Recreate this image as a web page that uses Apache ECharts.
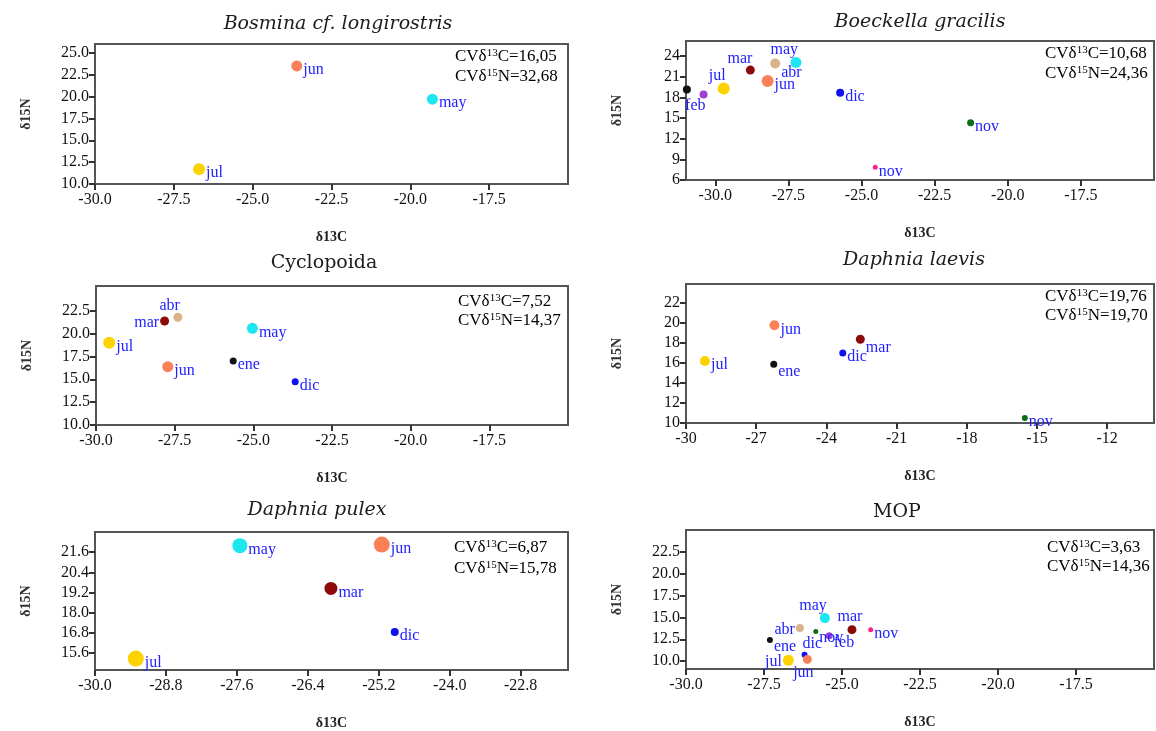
<!DOCTYPE html>
<html>
<head>
<meta charset="utf-8">
<script src="https://cdn.jsdelivr.net/npm/echarts@6/dist/echarts.min.js"></script>
<style>
html,body{margin:0;padding:0;background:#fff;}
#chart{width:1156px;height:731px;}
</style>
</head>
<body>
<div id="chart"></div>
<script>
// ---------------- DATA ----------------
const titles = ['Bosmina cf. longirostris', 'Boeckella gracilis', 'Cyclopoida', 'Daphnia laevis', 'Daphnia pulex', 'MOP'];
const titleItalic = [true, true, false, true, true, false];
const cv13 = ['16,05', '10,68', '7,52', '19,76', '6,87', '3,63'];
const cv15 = ['32,68', '24,36', '14,37', '19,70', '15,78', '14,36'];

// Bosmina cf. longirostris
const bosMonths = ['jun', 'may', 'jul'];
const bosC = [-23.6, -19.3, -26.7];
const bosN = [23.5, 19.7, 11.7];

// Boeckella gracilis
const boeMonths = ['ene', 'feb', 'jul', 'mar', 'may', 'abr', 'jun', 'dic', 'nov', 'nov'];
const boeC = [-30.97, -30.40, -29.71, -28.80, -27.24, -27.95, -28.21, -25.73, -21.27, -24.53];
const boeN = [19.16, 18.44, 19.31, 21.97, 23.08, 22.94, 20.37, 18.68, 14.32, 7.84];

// Cyclopoida
const cycMonths = ['jul', 'mar', 'abr', 'may', 'jun', 'ene', 'dic'];
const cycC = [-29.58, -27.82, -27.40, -25.03, -27.72, -25.64, -23.67];
const cycN = [19.0, 21.37, 21.77, 20.57, 16.38, 17.0, 14.74];

// Daphnia laevis
const dlaMonths = ['jul', 'jun', 'ene', 'dic', 'mar', 'nov'];
const dlaC = [-29.19, -26.22, -26.25, -23.3, -22.55, -15.52];
const dlaN = [16.2, 19.77, 15.87, 17.0, 18.37, 10.5];

// Daphnia pulex
const dpuMonths = ['may', 'jun', 'mar', 'dic', 'jul'];
const dpuC = [-27.55, -25.15, -26.01, -24.93, -29.31];
const dpuN = [21.99, 22.05, 19.45, 16.86, 15.28];

// MOP
const mopMonths = ['may', 'abr', 'nov', 'feb', 'mar', 'nov', 'ene', 'dic', 'jul', 'jun'];
const mopC = [-25.55, -26.35, -25.84, -25.41, -24.68, -24.08, -27.31, -26.2, -26.72, -26.11];
const mopN = [14.92, 13.78, 13.4, 12.9, 13.6, 13.6, 12.42, 10.72, 10.1, 10.2];

// tick labels
const xTicks = [
  ['-30.0', '-27.5', '-25.0', '-22.5', '-20.0', '-17.5'],
  ['-30.0', '-27.5', '-25.0', '-22.5', '-20.0', '-17.5'],
  ['-30.0', '-27.5', '-25.0', '-22.5', '-20.0', '-17.5'],
  ['-30', '-27', '-24', '-21', '-18', '-15', '-12'],
  ['-30.0', '-28.8', '-27.6', '-26.4', '-25.2', '-24.0', '-22.8'],
  ['-30.0', '-27.5', '-25.0', '-22.5', '-20.0', '-17.5']
];
const yTicks = [
  ['10.0', '12.5', '15.0', '17.5', '20.0', '22.5', '25.0'],
  ['6', '9', '12', '15', '18', '21', '24'],
  ['10.0', '12.5', '15.0', '17.5', '20.0', '22.5'],
  ['10', '12', '14', '16', '18', '20', '22'],
  ['15.6', '16.8', '18.0', '19.2', '20.4', '21.6'],
  ['10.0', '12.5', '15.0', '17.5', '20.0', '22.5']
];
const xRange = [[-30, -15], [-31, -15], [-30, -15], [-30, -10], [-30, -22], [-30, -15]];
const yRange = [[10, 26], [6, 26.2], [10, 25.2], [10, 23.9], [14.6, 22.8], [9.1, 25]];

// ---------------- STYLE ----------------
const palette = {
  ene: '#111111', feb: '#9b3fd6', mar: '#8b0a0a', abr: '#d9b38a', may: '#1ee6f0',
  jun: '#fa8058', jul: '#fcd200', dic: '#1010f0', novG: '#0c6e1c', novP: '#ff2090'
};
const panelColors = [
  ['jun', 'may', 'jul'],
  ['ene', 'feb', 'jul', 'mar', 'may', 'abr', 'jun', 'dic', 'novG', 'novP'],
  ['jul', 'mar', 'abr', 'may', 'jun', 'ene', 'dic'],
  ['jul', 'jun', 'ene', 'dic', 'mar', 'novG'],
  ['may', 'jun', 'mar', 'dic', 'jul'],
  ['may', 'abr', 'novG', 'feb', 'mar', 'novP', 'ene', 'dic', 'jul', 'jun']
];
const panelSizes = [
  [11, 11, 12],
  [8, 8, 12, 9, 11, 10, 12, 8, 7, 5],
  [12, 9, 9, 11, 11, 7, 7],
  [10, 10, 7, 7, 9, 6],
  [15, 16, 13, 8, 16],
  [10, 8, 5, 7, 9, 5, 6, 6, 11, 9]
];
const panelLabelPos = [
  ['r', 'r', 'r'],
  ['none', 'bl', 'tl', 'tl', 'tl', 'br', 'r', 'r', 'r', 'r'],
  ['r', 'l', 'tl', 'r', 'r', 'r', 'r'],
  ['r', 'r', 'br', 'r', 'br', 'r'],
  ['r', 'r', 'r', 'r', 'r'],
  ['tl', 'l', 'br', 'br', 't', 'r', 'br', 'tr', 'l', 'b']
];
const grids = [
  {left: 95, top: 44, width: 473, height: 140},
  {left: 686, top: 41, width: 468, height: 139},
  {left: 96, top: 286, width: 472, height: 139},
  {left: 686, top: 284, width: 468, height: 139},
  {left: 95, top: 532, width: 473, height: 139},
  {left: 686, top: 530, width: 468, height: 139}
];
const titlePos = [[338, 24], [920, 22], [324, 263], [914, 260], [317, 510], [897, 512]];
const cvPos = [[455, 57, 77], [1045, 54, 74], [458, 302, 321], [1045, 297, 316], [454, 548, 569], [1047, 548, 567]];

const months = [bosMonths, boeMonths, cycMonths, dlaMonths, dpuMonths, mopMonths];
const cVals = [bosC, boeC, cycC, dlaC, dpuC, mopC];
const nVals = [bosN, boeN, cycN, dlaN, dpuN, mopN];

const serif = '"Liberation Serif", "Times New Roman", serif';
const axisColor = '#555';

function labelCfg(pos, size) {
  const r = size / 2;
  const base = {show: true, position: 'inside', color: '#2222ff', fontFamily: serif, fontSize: 16};
  switch (pos) {
    case 'none': return {show: false};
    case 'r': return Object.assign(base, {align: 'left', verticalAlign: 'middle', offset: [r + 1, 4]});
    case 'br': return Object.assign(base, {align: 'left', verticalAlign: 'middle', offset: [r + 1, r + 4]});
    case 'l': return Object.assign(base, {align: 'right', verticalAlign: 'middle', offset: [-r - 1, 2]});
    case 'tl': return Object.assign(base, {align: 'right', verticalAlign: 'middle', offset: [2, -r - 7]});
    case 'bl': return Object.assign(base, {align: 'right', verticalAlign: 'middle', offset: [2, r + 7]});
    case 't': return Object.assign(base, {align: 'center', verticalAlign: 'middle', offset: [-2, -r - 8]});
    case 'tr': return Object.assign(base, {align: 'left', verticalAlign: 'middle', offset: [-2, -r - 8]});
    case 'b': return Object.assign(base, {align: 'center', verticalAlign: 'middle', offset: [-4, r + 9]});
  }
}

const option = {
  animation: false,
  backgroundColor: '#fff',
  grid: [], xAxis: [], yAxis: [], series: [], graphic: []
};

for (let i = 0; i < 6; i++) {
  option.grid.push(Object.assign({show: true, borderColor: axisColor, borderWidth: 2, backgroundColor: 'transparent'}, grids[i]));
  const xv = xTicks[i].map(parseFloat);
  const yv = yTicks[i].map(parseFloat);
  const xl = xTicks[i], yl = yTicks[i];
  option.xAxis.push({
    type: 'value', gridIndex: i, min: xRange[i][0], max: xRange[i][1],
    name: 'δ13C', nameLocation: 'middle', nameGap: 46,
    nameTextStyle: {fontFamily: serif, fontSize: 14, fontWeight: 'bold', color: '#222'},
    axisLine: {show: true, onZero: false, lineStyle: {color: axisColor, width: 2}},
    axisTick: {show: true, length: 6, customValues: xv, lineStyle: {color: '#333', width: 2}},
    axisLabel: {customValues: xv, margin: 8, fontFamily: serif, fontSize: 16, color: '#111',
      formatter: v => { const k = xv.findIndex(t => Math.abs(t - v) < 1e-6); return k >= 0 ? xl[k] : ''; }},
    splitLine: {show: false}
  });
  option.yAxis.push({
    type: 'value', gridIndex: i, min: yRange[i][0], max: yRange[i][1],
    name: 'δ15N', nameLocation: 'middle', nameGap: 62, nameRotate: 90,
    nameTextStyle: {fontFamily: serif, fontSize: 14, fontWeight: 'bold', color: '#333'},
    axisLine: {show: true, onZero: false, lineStyle: {color: axisColor, width: 2}},
    axisTick: {show: true, length: 6, customValues: yv, lineStyle: {color: '#333', width: 2}},
    axisLabel: {customValues: yv, margin: 6, fontFamily: serif, fontSize: 16, color: '#111',
      formatter: v => { const k = yv.findIndex(t => Math.abs(t - v) < 1e-6); return k >= 0 ? yl[k] : ''; }},
    splitLine: {show: false}
  });
  const data = months[i].map((m, j) => ({
    name: m,
    value: [cVals[i][j], nVals[i][j]],
    symbolSize: panelSizes[i][j],
    itemStyle: {color: palette[panelColors[i][j]], opacity: 1},
    label: Object.assign(labelCfg(panelLabelPos[i][j], panelSizes[i][j]), {formatter: m})
  }));
  option.series.push({
    type: 'scatter', xAxisIndex: i, yAxisIndex: i, symbol: 'circle', data: data,
    itemStyle: {opacity: 1},
    emphasis: {disabled: true}
  });
  // title
  option.graphic.push({
    type: 'text', x: titlePos[i][0], y: titlePos[i][1], z: 10,
    style: {text: titles[i], fill: '#1c1c1c', fontFamily: '"DejaVu Serif", serif', fontSize: 19,
      fontStyle: titleItalic[i] ? 'italic' : 'normal', align: 'center', verticalAlign: 'middle'}
  });
  // CV text
  const rich = {
    n: {fontFamily: serif, fontSize: 17, color: '#111'},
    s: {fontFamily: serif, fontSize: 11, color: '#111', verticalAlign: 'top', padding: [0, 0, 7, 0]}
  };
  option.graphic.push({
    type: 'text', x: cvPos[i][0], y: cvPos[i][1], z: 10,
    style: {text: '{n|CVδ}{s|13}{n|C=' + cv13[i] + '}', rich: rich, align: 'left', verticalAlign: 'middle'}
  });
  option.graphic.push({
    type: 'text', x: cvPos[i][0], y: cvPos[i][2], z: 10,
    style: {text: '{n|CVδ}{s|15}{n|N=' + cv15[i] + '}', rich: rich, align: 'left', verticalAlign: 'middle'}
  });
}

const chart = echarts.init(document.getElementById('chart'), null, {renderer: 'canvas'});
chart.setOption(option);
</script>
</body>
</html>
